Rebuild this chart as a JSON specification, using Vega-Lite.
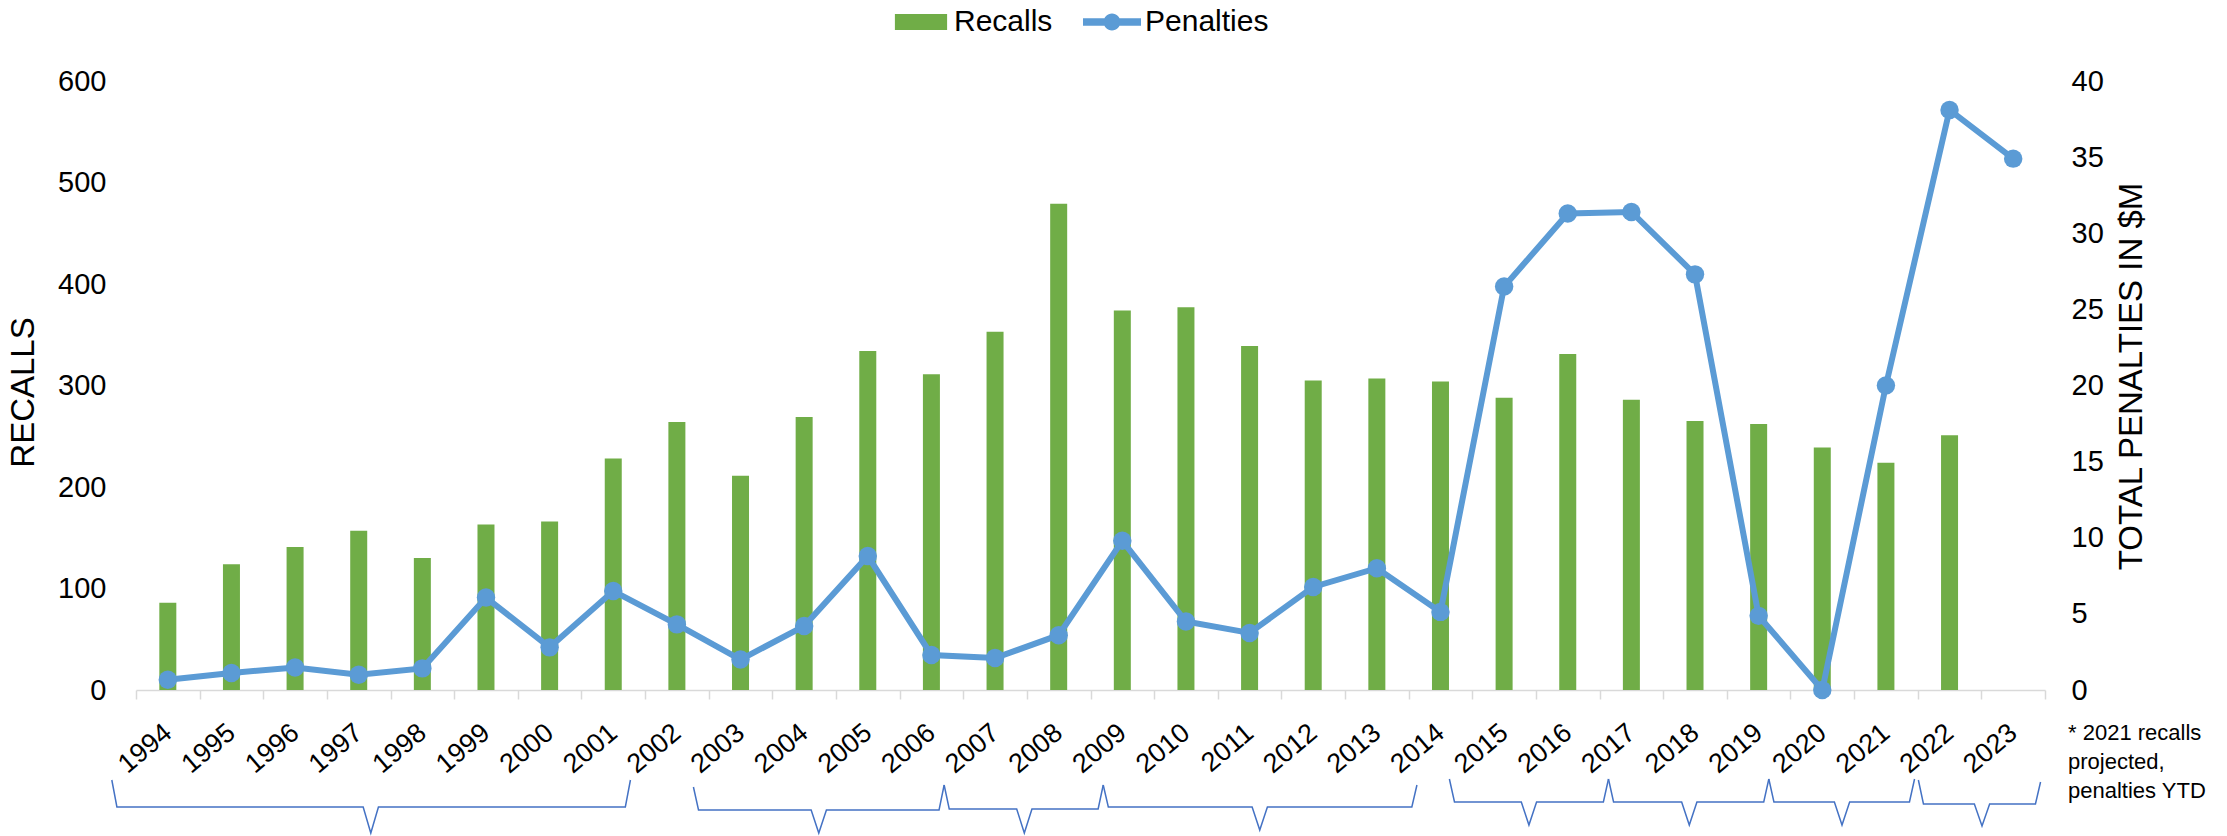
{
  "$schema": "https://vega.github.io/schema/vega-lite/v6.json",
  "autosize": {"type": "none"},
  "width": 1909,
  "height": 609,
  "padding": {"left": 136, "top": 81, "right": 182, "bottom": 146},
  "background": "white",
  "config": {
    "view": {"stroke": null},
    "font": "Liberation Sans",
    "axis": {"labelFont": "Liberation Sans", "titleFont": "Liberation Sans", "labelColor": "#000000", "titleColor": "#000000", "titleFontWeight": "normal", "grid": false},
    "legend": {"labelFont": "Liberation Sans", "labelColor": "#000000"}
  },
  "title": {
    "text": ["* 2021 recalls", "projected,", "penalties YTD"],
    "orient": "bottom",
    "anchor": "end",
    "align": "left",
    "frame": "group",
    "dx": 23,
    "offset": -113,
    "fontSize": 22,
    "fontWeight": "normal",
    "font": "Liberation Sans",
    "color": "#000000",
    "lineHeight": 29,
    "baseline": "top"
  },
  "datasets": {
    "main": [
      {"year": "1994", "recalls": 86, "penalties": 0.67},
      {"year": "1995", "recalls": 124, "penalties": 1.12},
      {"year": "1996", "recalls": 141, "penalties": 1.48},
      {"year": "1997", "recalls": 157, "penalties": 1.0},
      {"year": "1998", "recalls": 130, "penalties": 1.42},
      {"year": "1999", "recalls": 163, "penalties": 6.07},
      {"year": "2000", "recalls": 166, "penalties": 2.8},
      {"year": "2001", "recalls": 228, "penalties": 6.5},
      {"year": "2002", "recalls": 264, "penalties": 4.31},
      {"year": "2003", "recalls": 211, "penalties": 2.0},
      {"year": "2004", "recalls": 269, "penalties": 4.2},
      {"year": "2005", "recalls": 334, "penalties": 8.8},
      {"year": "2006", "recalls": 311, "penalties": 2.3},
      {"year": "2007", "recalls": 353, "penalties": 2.1},
      {"year": "2008", "recalls": 479, "penalties": 3.6},
      {"year": "2009", "recalls": 374, "penalties": 9.8},
      {"year": "2010", "recalls": 377, "penalties": 4.5},
      {"year": "2011", "recalls": 339, "penalties": 3.75},
      {"year": "2012", "recalls": 305, "penalties": 6.77},
      {"year": "2013", "recalls": 307, "penalties": 8.0},
      {"year": "2014", "recalls": 304, "penalties": 5.13},
      {"year": "2015", "recalls": 288, "penalties": 26.5},
      {"year": "2016", "recalls": 331, "penalties": 31.3},
      {"year": "2017", "recalls": 286, "penalties": 31.4},
      {"year": "2018", "recalls": 265, "penalties": 27.3},
      {"year": "2019", "recalls": 262, "penalties": 4.87},
      {"year": "2020", "recalls": 239, "penalties": 0.0},
      {"year": "2021", "recalls": 224, "penalties": 20.0},
      {"year": "2022", "recalls": 251, "penalties": 38.1},
      {"year": "2023", "recalls": null, "penalties": 34.9}
    ],
    "brackets": [
      {"b": 1, "ord": 1, "bx": 1993.12, "by": -90},
      {"b": 1, "ord": 2, "bx": 1993.2, "by": -117},
      {"b": 1, "ord": 3, "bx": 1997.07, "by": -117},
      {"b": 1, "ord": 4, "bx": 1997.19, "by": -143},
      {"b": 1, "ord": 5, "bx": 1997.31, "by": -117},
      {"b": 1, "ord": 6, "bx": 2001.19, "by": -117},
      {"b": 1, "ord": 7, "bx": 2001.27, "by": -90},
      {"b": 2, "ord": 1, "bx": 2002.26, "by": -97},
      {"b": 2, "ord": 2, "bx": 2002.34, "by": -120},
      {"b": 2, "ord": 3, "bx": 2004.11, "by": -120},
      {"b": 2, "ord": 4, "bx": 2004.23, "by": -143},
      {"b": 2, "ord": 5, "bx": 2004.35, "by": -120},
      {"b": 2, "ord": 6, "bx": 2006.12, "by": -120},
      {"b": 2, "ord": 7, "bx": 2006.2, "by": -95},
      {"b": 3, "ord": 1, "bx": 2006.2, "by": -95},
      {"b": 3, "ord": 2, "bx": 2006.28, "by": -119},
      {"b": 3, "ord": 3, "bx": 2007.34, "by": -119},
      {"b": 3, "ord": 4, "bx": 2007.46, "by": -143},
      {"b": 3, "ord": 5, "bx": 2007.58, "by": -119},
      {"b": 3, "ord": 6, "bx": 2008.62, "by": -119},
      {"b": 3, "ord": 7, "bx": 2008.7, "by": -95},
      {"b": 4, "ord": 1, "bx": 2008.7, "by": -95},
      {"b": 4, "ord": 2, "bx": 2008.78, "by": -117},
      {"b": 4, "ord": 3, "bx": 2011.04, "by": -117},
      {"b": 4, "ord": 4, "bx": 2011.16, "by": -140},
      {"b": 4, "ord": 5, "bx": 2011.28, "by": -117},
      {"b": 4, "ord": 6, "bx": 2013.55, "by": -117},
      {"b": 4, "ord": 7, "bx": 2013.63, "by": -95},
      {"b": 5, "ord": 1, "bx": 2014.14, "by": -89},
      {"b": 5, "ord": 2, "bx": 2014.22, "by": -112},
      {"b": 5, "ord": 3, "bx": 2015.27, "by": -112},
      {"b": 5, "ord": 4, "bx": 2015.39, "by": -135},
      {"b": 5, "ord": 5, "bx": 2015.51, "by": -112},
      {"b": 5, "ord": 6, "bx": 2016.56, "by": -112},
      {"b": 5, "ord": 7, "bx": 2016.64, "by": -89},
      {"b": 6, "ord": 1, "bx": 2016.64, "by": -89},
      {"b": 6, "ord": 2, "bx": 2016.72, "by": -112},
      {"b": 6, "ord": 3, "bx": 2017.79, "by": -112},
      {"b": 6, "ord": 4, "bx": 2017.91, "by": -135},
      {"b": 6, "ord": 5, "bx": 2018.03, "by": -112},
      {"b": 6, "ord": 6, "bx": 2019.08, "by": -112},
      {"b": 6, "ord": 7, "bx": 2019.16, "by": -89},
      {"b": 7, "ord": 1, "bx": 2019.16, "by": -89},
      {"b": 7, "ord": 2, "bx": 2019.24, "by": -112},
      {"b": 7, "ord": 3, "bx": 2020.19, "by": -112},
      {"b": 7, "ord": 4, "bx": 2020.31, "by": -135},
      {"b": 7, "ord": 5, "bx": 2020.43, "by": -112},
      {"b": 7, "ord": 6, "bx": 2021.37, "by": -112},
      {"b": 7, "ord": 7, "bx": 2021.45, "by": -89},
      {"b": 8, "ord": 1, "bx": 2021.51, "by": -90},
      {"b": 8, "ord": 2, "bx": 2021.59, "by": -114},
      {"b": 8, "ord": 3, "bx": 2022.39, "by": -114},
      {"b": 8, "ord": 4, "bx": 2022.51, "by": -136},
      {"b": 8, "ord": 5, "bx": 2022.63, "by": -114},
      {"b": 8, "ord": 6, "bx": 2023.35, "by": -114},
      {"b": 8, "ord": 7, "bx": 2023.43, "by": -92}
    ]
  },
  "layer": [
    {
      "data": {"name": "main"},
      "layer": [
        {
          "mark": {"type": "bar", "size": 17, "opacity": 1},
          "encoding": {
            "x": {
              "field": "year", "type": "ordinal",
              "scale": {"paddingInner": 0, "paddingOuter": 0},
              "axis": {
                "title": null, "labelAngle": -40, "labelAlign": "right", "labelBaseline": "middle",
                "labelFontSize": 27, "labelPadding": 30,
                "labelOverlap": false, "tickBand": "extent", "ticks": true, "tickSize": 9,
                "tickColor": "#D9D9D9", "tickWidth": 1.5, "domainColor": "#D9D9D9", "domainWidth": 1.5
              }
            },
            "y": {
              "field": "recalls", "type": "quantitative",
              "scale": {"domain": [0, 600], "nice": false},
              "axis": {
                "title": "RECALLS", "titleFontSize": 33, "labelFontSize": 29, "ticks": false, "domain": false,
                "values": [0, 100, 200, 300, 400, 500, 600], "labelPadding": 30, "titlePadding": 17, "titleY": 311
              }
            },
            "color": {
              "datum": "Recalls", "type": "nominal",
              "scale": {"domain": ["Recalls", "Penalties"], "range": ["#70AD47", "#5B9BD5"]},
              "legend": {
                "title": null, "orient": "none", "legendX": 756, "legendY": -88, "direction": "horizontal",
                "labelFontSize": 30, "symbolSize": 3364, "labelOffset": 4, "columnPadding": 30, "padding": 0,
                "symbolStrokeWidth": 0, "symbolOpacity": 1,
                "encode": {
                  "symbols": {
                    "update": {
                      "shape": {"signal": "datum.value === 'Recalls' ? 'M-0.9,-0.28H0.9V0.28H-0.9Z' : 'M-1,-0.13H1V0.13H-1Z M0.29,0A0.29,0.29,0,1,1,-0.29,0A0.29,0.29,0,1,1,0.29,0Z'"},
                      "strokeWidth": {"value": 0},
                      "opacity": {"value": 1}
                    }
                  }
                }
              }
            }
          }
        },
        {
          "layer": [
            {
              "mark": {"type": "line", "color": "#5B9BD5", "strokeWidth": 6},
              "encoding": {
                "x": {"field": "year", "type": "ordinal"},
                "y": {
                  "field": "penalties", "type": "quantitative",
                  "scale": {"domain": [0, 40], "nice": false},
                  "axis": {
                    "orient": "right", "title": "TOTAL PENALTIES IN $M", "titleAngle": 270, "titleBaseline": "top",
                    "titleFontSize": 33, "labelFontSize": 29, "ticks": false, "domain": false,
                    "values": [0, 5, 10, 15, 20, 25, 30, 35, 40], "labelPadding": 26, "titlePadding": 12, "titleY": 295
                  }
                }
              }
            },
            {
              "mark": {"type": "point", "filled": true, "size": 340, "opacity": 1},
              "encoding": {
                "x": {"field": "year", "type": "ordinal"},
                "y": {"field": "penalties", "type": "quantitative"},
                "color": {"datum": "Penalties", "type": "nominal"}
              }
            }
          ]
        }
      ],
      "resolve": {"scale": {"y": "independent"}}
    },
    {
      "data": {"name": "brackets"},
      "mark": {"type": "line", "color": "#4472C4", "strokeWidth": 1.5},
      "encoding": {
        "x": {"field": "bx", "type": "quantitative", "scale": {"domain": [1993.5, 2023.5], "nice": false, "zero": false}, "axis": null},
        "y": {"field": "by", "type": "quantitative", "scale": {"domain": [0, 609], "nice": false, "zero": false}, "axis": null},
        "detail": {"field": "b", "type": "nominal"},
        "order": {"field": "ord", "type": "quantitative"}
      }
    }
  ],
  "resolve": {"scale": {"x": "independent", "y": "independent"}}
}
